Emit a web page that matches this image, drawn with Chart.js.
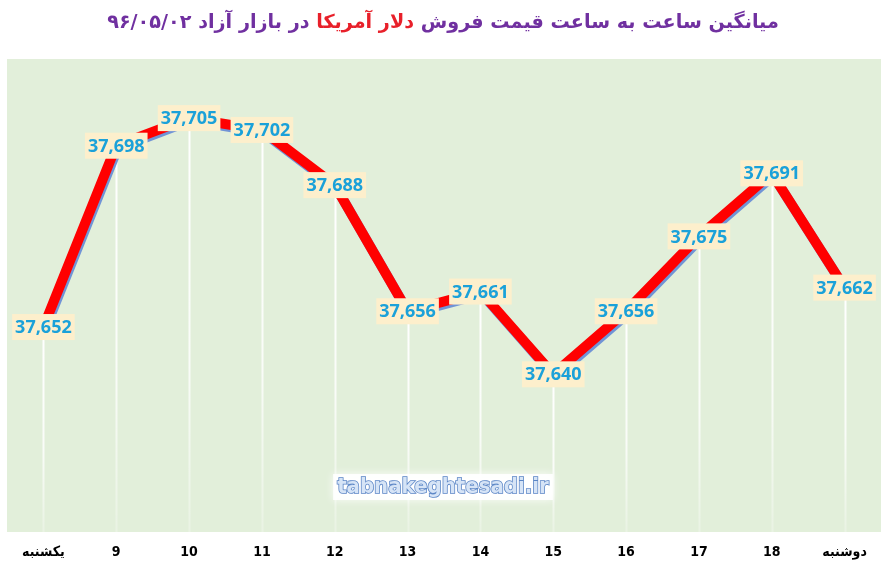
<!DOCTYPE html>
<html>
<head>
<meta charset="utf-8">
<script src="https://cdn.jsdelivr.net/npm/chart.js@4.4.0/dist/chart.umd.min.js"></script>
<style>
  html, body { margin: 0; padding: 0; background: #fff; }
  #wrap { position: relative; width: 886px; height: 564px; }
  #title {
    position: absolute; top: 10px; left: 14px; width: 858px;
    text-align: center; direction: rtl;
    font: bold 19.2px "DejaVu Sans"; color: #7030a0; white-space: nowrap;
  }
  #title .red { color: #e8202a; }
  canvas { position: absolute; left: 0; top: 0; }
</style>
</head>
<body>
<div id="wrap">
  <canvas id="c" width="886" height="564"></canvas>
  <div id="title">میانگین ساعت به ساعت قیمت فروش <span class="red">دلار آمریکا</span> در بازار آزاد ۹۶/۰۵/۰۲</div>
</div>
<script>
// hours of the day (first and last are day names)
const hours = ['یکشنبه', '9', '10', '11', '12', '13', '14', '15', '16', '17', '18', 'دوشنبه'];
// average sell price of the dollar, toman
const prices = [37652, 37698, 37705, 37702, 37688, 37656, 37661, 37640, 37656, 37675, 37691, 37662];
const yMin = 37600;
const yMax = 37720;

const plotBg = {
  id: 'plotBg',
  beforeDraw(chart) {
    const a = chart.chartArea, ctx = chart.ctx;
    ctx.save();
    ctx.fillStyle = '#e2efda';
    ctx.fillRect(a.left, a.top, a.right - a.left, a.bottom - a.top);
    ctx.restore();
  }
};

// white drop lines from every point down to the bottom
const dropLines = {
  id: 'dropLines',
  beforeDatasetsDraw(chart) {
    const a = chart.chartArea, ctx = chart.ctx;
    const meta = chart.getDatasetMeta(0);
    ctx.save();
    ctx.lineWidth = 2;
    meta.data.forEach(p => {
      const g = ctx.createLinearGradient(0, p.y, 0, a.bottom);
      g.addColorStop(0, 'rgba(255,255,255,1)');
      g.addColorStop(0.6, 'rgba(255,255,255,0.8)');
      g.addColorStop(1, 'rgba(255,255,255,0.25)');
      ctx.strokeStyle = g;
      ctx.beginPath();
      ctx.moveTo(Math.round(p.x) + 0.5, p.y);
      ctx.lineTo(Math.round(p.x) + 0.5, a.bottom);
      ctx.stroke();
    });
    ctx.restore();
  }
};

// blue offset shadow under the red line
const lineShadow = {
  id: 'lineShadow',
  beforeDatasetDraw(chart) {
    const ctx = chart.ctx;
    ctx.save();
    ctx.shadowColor = '#7194d6';
    ctx.shadowOffsetX = 1.5;
    ctx.shadowOffsetY = 2.5;
    ctx.shadowBlur = 0;
  },
  afterDatasetDraw(chart) {
    chart.ctx.restore();
  }
};

const valueLabels = {
  id: 'valueLabels',
  afterDatasetsDraw(chart) {
    const ctx = chart.ctx;
    const meta = chart.getDatasetMeta(0);
    ctx.save();
    ctx.font = 'bold 18px "Open Sans"';
    ctx.textAlign = 'center';
    ctx.textBaseline = 'middle';
    meta.data.forEach((p, i) => {
      const txt = prices[i].toLocaleString('en-US');
      const w = ctx.measureText(txt).width + 6;
      const h = 26;
      ctx.fillStyle = '#fdefcc';
      ctx.fillRect(p.x - w / 2, p.y - h / 2, w, h);
      ctx.fillStyle = '#1ba1d9';
      ctx.fillText(txt, p.x, p.y + 1);
    });
    ctx.restore();
  }
};

const watermark = {
  id: 'watermark',
  afterDraw(chart) {
    const ctx = chart.ctx;
    const x = 443, y = 487;
    ctx.save();
    ctx.font = 'bold 22px "DejaVu Sans Condensed", "DejaVu Sans"';
    ctx.textAlign = 'center';
    ctx.textBaseline = 'middle';
    const w = ctx.measureText('tabnakeghtesadi.ir').width;
    ctx.shadowColor = 'rgba(255,255,255,0.95)';
    ctx.shadowBlur = 8;
    ctx.fillStyle = 'rgba(255,255,255,0.9)';
    ctx.fillRect(x - w / 2 - 4, y - 13, w + 8, 26);
    ctx.shadowBlur = 0;
    ctx.lineWidth = 1.6;
    ctx.strokeStyle = '#5b86c6';
    ctx.strokeText('tabnakeghtesadi.ir', x, y);
    ctx.fillStyle = '#d6e4f6';
    ctx.fillText('tabnakeghtesadi.ir', x, y);
    ctx.restore();
  }
};

new Chart(document.getElementById('c'), {
  type: 'line',
  data: {
    labels: hours,
    datasets: [{
      data: prices,
      borderColor: '#ff0000',
      borderWidth: 10,
      tension: 0,
      pointRadius: 0,
      borderJoinStyle: 'miter',
      borderCapStyle: 'butt',
      fill: false
    }]
  },
  options: {
    responsive: false,
    animation: false,
    layout: { padding: { left: 7, right: 5, top: 59, bottom: 0 } },
    plugins: { legend: { display: false }, tooltip: { enabled: false } },
    scales: {
      x: {
        offset: true,
        grid: { display: false },
        border: { display: false },
        ticks: {
          color: '#000',
          font: { family: '"DejaVu Sans Condensed", "DejaVu Sans"', weight: 'bold', size: 14 },
          maxRotation: 0,
          padding: 4
        },
        afterFit(axis) { axis.height = 32; }
      },
      y: { display: false, min: yMin, max: yMax }
    }
  },
  plugins: [plotBg, dropLines, lineShadow, valueLabels, watermark]
});
</script>
</body>
</html>
